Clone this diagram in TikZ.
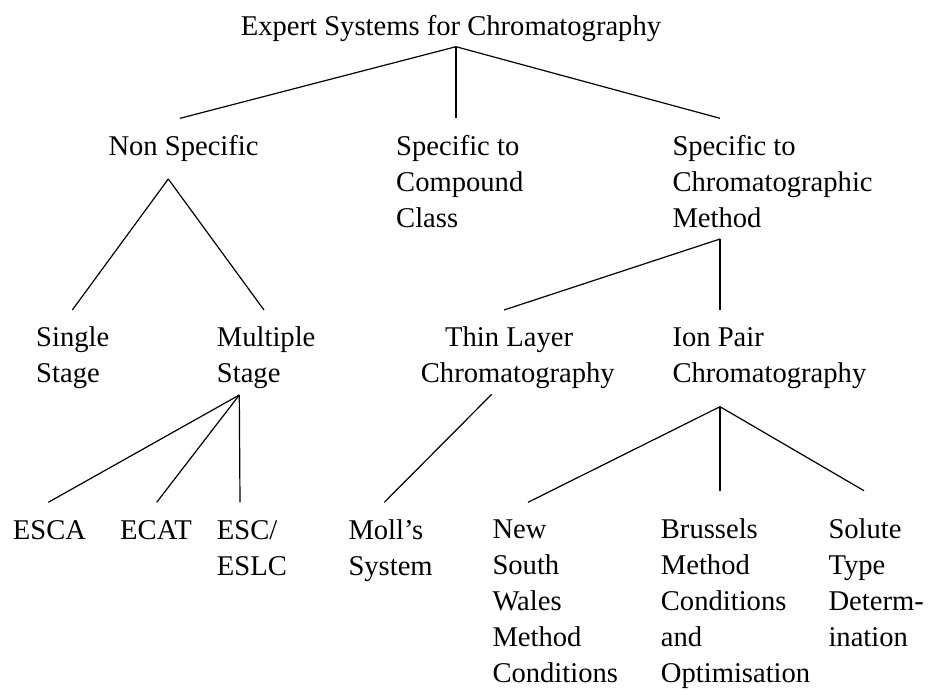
\documentclass[tikz,border=0pt]{standalone}
\usepackage{fontspec}
\setmainfont{Liberation Serif}
\begin{document}
\begin{tikzpicture}[x=1pt,y=-1pt,
  lbl/.style={anchor=base west,inner sep=0pt,align=left,font=\fontsize{28.6}{36}\selectfont},
  edge/.style={line width=1.2pt}]
\useasboundingbox (0,0) rectangle (928,689);
% text nodes (anchor = baseline of the last line)
\node[lbl] (root) at (240.7,35) {Expert Systems for Chromatography};
\node[lbl] (ns) at (108.3,155) {Non Specific};
\node[lbl] (sc) at (396,227) {Specific to\\Compound\\Class};
\node[lbl] (sm) at (672.3,227) {Specific to\\Chromatographic\\Method};
\node[lbl] (single) at (36,382.7) {Single\\Stage};
\node[lbl] (multi) at (216.7,382.7) {Multiple\\Stage};
\node[lbl] (tl) at (420.7,382.7) {\hspace*{24.3pt}Thin Layer\\Chromatography};
\node[lbl] (ip) at (672.3,382.7) {Ion Pair\\Chromatography};
\node[lbl] (esca) at (12.7,539.3) {ESCA};
\node[lbl] (ecat) at (120,539.3) {ECAT};
\node[lbl] (esc) at (216.7,575.3) {ESC/\\ESLC};
\node[lbl] (moll) at (348.3,575.3) {Moll's\\System};
\node[lbl] (nsw) at (492.3,682.5) {New\\South\\Wales\\Method\\Conditions};
\node[lbl] (bru) at (660.7,682.5) {Brussels\\Method\\Conditions\\and\\Optimisation};
\node[lbl] (sol) at (828.3,646.5) {Solute\\Type\\Determ-\\ination};
% connection points
\coordinate (rootB) at (456,46.7);
\coordinate (nsT) at (180,118.3);
\coordinate (scT) at (456,118.3);
\coordinate (smT) at (720,118.3);
\coordinate (nsB) at (168.3,179);
\coordinate (singleT) at (72.3,310);
\coordinate (multiT) at (264,310);
\coordinate (smB) at (720,239);
\coordinate (tlT) at (504,310);
\coordinate (ipT) at (720,310);
\coordinate (multiB) at (239.3,395);
\coordinate (escaT) at (48.3,502.3);
\coordinate (ecatT) at (156.7,502.3);
\coordinate (escT) at (240,502.3);
\coordinate (tlB) at (491.7,394.3);
\coordinate (mollT) at (384.3,502.3);
\coordinate (ipB) at (720,406.7);
\coordinate (nswT) at (528,502.3);
\coordinate (bruT) at (720,490.7);
\coordinate (solT) at (864,490.7);
% connectors
\draw[edge] (rootB) -- (nsT);
\draw[edge] (rootB) -- (scT);
\draw[edge] (rootB) -- (smT);
\draw[edge] (nsB) -- (singleT);
\draw[edge] (nsB) -- (multiT);
\draw[edge] (smB) -- (tlT);
\draw[edge] (smB) -- (ipT);
\draw[edge] (multiB) -- (escaT);
\draw[edge] (multiB) -- (ecatT);
\draw[edge] (multiB) -- (escT);
\draw[edge] (tlB) -- (mollT);
\draw[edge] (ipB) -- (nswT);
\draw[edge] (ipB) -- (bruT);
\draw[edge] (ipB) -- (solT);
\end{tikzpicture}
\end{document}
